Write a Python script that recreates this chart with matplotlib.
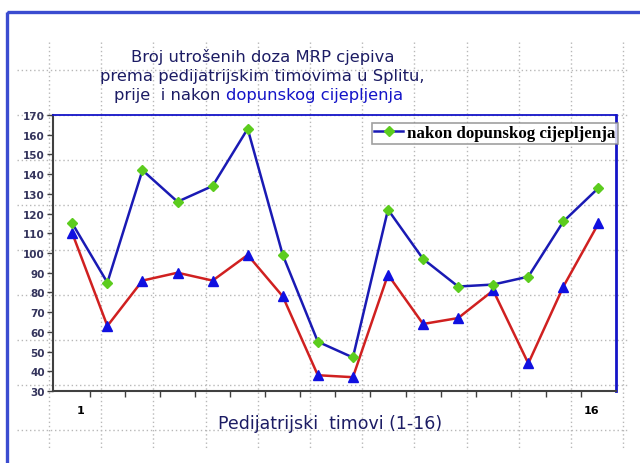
import numpy as np
import matplotlib
matplotlib.use('Agg')
import matplotlib.pyplot as plt
from matplotlib.patches import Rectangle

# podaci: broj utrošenih doza po pedijatrijskom timu
timovi = np.arange(1, 17)
nakon = [115, 85, 142, 126, 134, 163, 99, 55, 47, 122, 97, 83, 84, 88, 116, 133]
prije = [110, 63, 86, 90, 86, 99, 78, 38, 37, 89, 64, 67, 81, 44, 83, 115]
y_ticks = list(range(30, 171, 10))
x_labels = ['1', '16']

NAVY = '#1c1c64'
BLUE = '#1414c8'
title_font = 'DejaVu Sans'
title_size = 11.8

fig = plt.figure(figsize=(6.4, 4.64), dpi=100)
fig.patch.set_facecolor('white')

# pozadina slajda: točkasta mreža i plavi okvir
bg = fig.add_axes([0, 0, 1, 1], zorder=0)
bg.set_xlim(0, 640)
bg.set_ylim(464, 0)
bg.axis('off')
for gx in np.arange(49, 630, 52.2):
    bg.plot([gx, gx], [43, 450], color='#b8b8b8', lw=1, ls=(0, (1, 2)))
for gy in np.arange(71, 440, 45):
    bg.plot([17, 627], [gy, gy], color='#b8b8b8', lw=1, ls=(0, (1, 2)))
bg.add_patch(Rectangle((7, 13), 700, 500, fill=False, edgecolor='#3b4cd0', lw=2.4))

# glavni graf
ax = fig.add_axes([53 / 640, 1 - 392 / 464, 563 / 640, 276 / 464], zorder=2)
ax.set_facecolor('none')
ax.plot(timovi, prije, color='#d02020', lw=1.8, marker='^', ms=7,
        mfc='#1010e0', mec='#1010e0', zorder=3)
ax.plot(timovi, nakon, color='#1a1ab4', lw=1.8, marker='D', ms=5,
        mfc='#5ccc1e', mec='#5ccc1e', zorder=4, label='nakon dopunskog cijepljenja')

ax.set_xlim(0.45, 16.5)
ax.set_ylim(30, 170)
ax.set_yticks(y_ticks)
ax.set_yticklabels([str(v) for v in y_ticks], fontsize=7.5, fontweight='bold', color='#34345c')
ax.set_xticks(np.arange(1.5, 16, 1))
ax.set_xticklabels([])
ax.set_xticks([1.25, 15.8], x_labels, minor=True)
ax.tick_params(axis='x', which='minor', length=0, pad=10, labelsize=8)
for lab in ax.get_xticklabels(minor=True):
    lab.set_fontweight('bold')
ax.tick_params(axis='both', which='major', length=4, width=1, color='#404040', pad=2)

for side in ['left', 'bottom']:
    ax.spines[side].set_color('#404040')
    ax.spines[side].set_linewidth(1.5)
ax.spines['top'].set_color(BLUE)
ax.spines['top'].set_linewidth(1.3)
ax.spines['right'].set_color(BLUE)
ax.spines['right'].set_linewidth(2)

leg = ax.legend(loc='upper right', bbox_to_anchor=(1.004, 0.972), frameon=True, fancybox=False,
                prop={'family': 'Liberation Serif', 'weight': 'bold', 'size': 12.2},
                handlelength=1.7, handletextpad=0.25, borderpad=0.15, borderaxespad=0)
leg.get_frame().set_edgecolor('#888888')
leg.get_frame().set_linewidth(1.2)

# naslov
fig.text(131 / 640, 1 - 62 / 464, 'Broj utrošenih doza MRP cjepiva', fontsize=title_size,
         family=title_font, color=NAVY, va='baseline')
fig.text(100 / 640, 1 - 81 / 464, 'prema pedijatrijskim timovima u Splitu,', fontsize=title_size,
         family=title_font, color=NAVY, va='baseline')
t3 = fig.text(114 / 640, 1 - 100 / 464, 'prije  i nakon ', fontsize=title_size,
              family=title_font, color=NAVY, va='baseline')
ax.annotate('dopunskog cijepljenja', xy=(1, 0), xycoords=t3, va='bottom',
            fontsize=title_size, family=title_font, color=BLUE, annotation_clip=False)

fig.text(330 / 640, 1 - 429 / 464, 'Pedijatrijski  timovi (1-16)', fontsize=12.5,
         family=title_font, color=NAVY, ha='center', va='baseline')

fig.savefig('out.png', dpi=100)
